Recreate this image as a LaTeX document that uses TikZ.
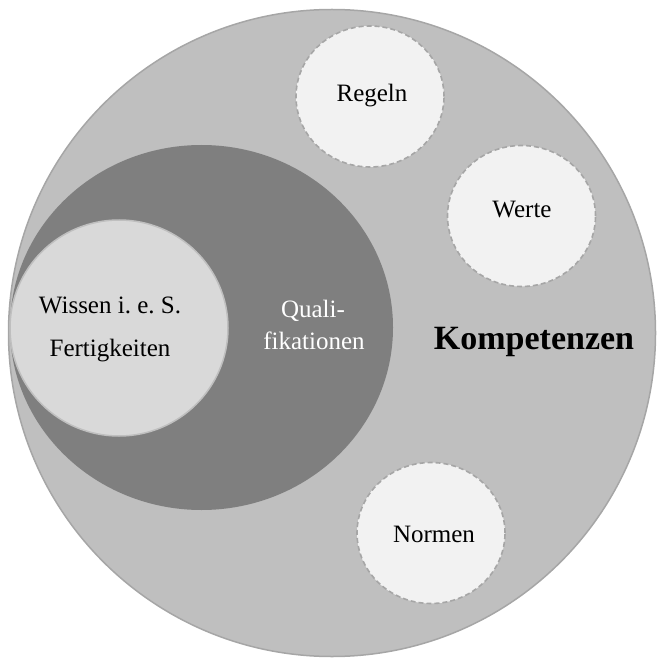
\documentclass[tikz,border=0pt]{standalone}
\usepackage{fontspec}
\setmainfont{Liberation Serif}
\usetikzlibrary{shapes.geometric}
\definecolor{bigfill}{HTML}{BFBFBF}
\definecolor{bigline}{HTML}{A6A6A6}
\definecolor{darkfill}{HTML}{7F7F7F}
\definecolor{lightfill}{HTML}{D9D9D9}
\definecolor{smallfill}{HTML}{F2F2F2}
\tikzset{
  blob/.style={ellipse, inner sep=0pt, outer sep=0pt},
  smallblob/.style={blob, fill=smallfill, draw=bigline, line width=1.6pt, dash pattern=on 5pt off 3pt, minimum width=148pt, minimum height=141pt},
  lbl/.style={anchor=base, inner sep=0pt, font=\fontsize{25}{30}\selectfont},
}
\begin{document}
\begin{tikzpicture}[x=1pt,y=-1pt]
\useasboundingbox (0,0) rectangle (656,660);
\node[blob, fill=bigfill, draw=bigline, line width=1.5pt, minimum width=647pt, minimum height=647pt] (big) at (332,333) {};
\node[blob, fill=darkfill, minimum width=383pt, minimum height=365pt] (qual) at (201.5,327.5) {};
\node[blob, fill=lightfill, draw=bigfill, line width=1.5pt, minimum width=218pt, minimum height=216pt] (wiss) at (119,328) {};
\node[smallblob] (regeln) at (370,96.5) {};
\node[smallblob] (werte) at (521.5,216) {};
\node[smallblob] (normen) at (431,533) {};
\node[lbl] (tregeln) at (372,102) {Regeln};
\node[lbl] (twerte) at (522,218) {Werte};
\node[lbl] (tnormen) at (434,542) {Normen};
\node[lbl] (twiss1) at (110,313) {Wissen i.\ e.\ S.};
\node[lbl] (twiss2) at (110,356) {Fertigkeiten};
\node[lbl, text=white] (tqual1) at (313,317) {Quali-};
\node[lbl, text=white] (tqual2) at (314,349) {fikationen};
\node[lbl, font=\fontsize{34}{40}\selectfont\bfseries] (tkomp) at (534,349) {Kompetenzen};
\end{tikzpicture}
\end{document}
